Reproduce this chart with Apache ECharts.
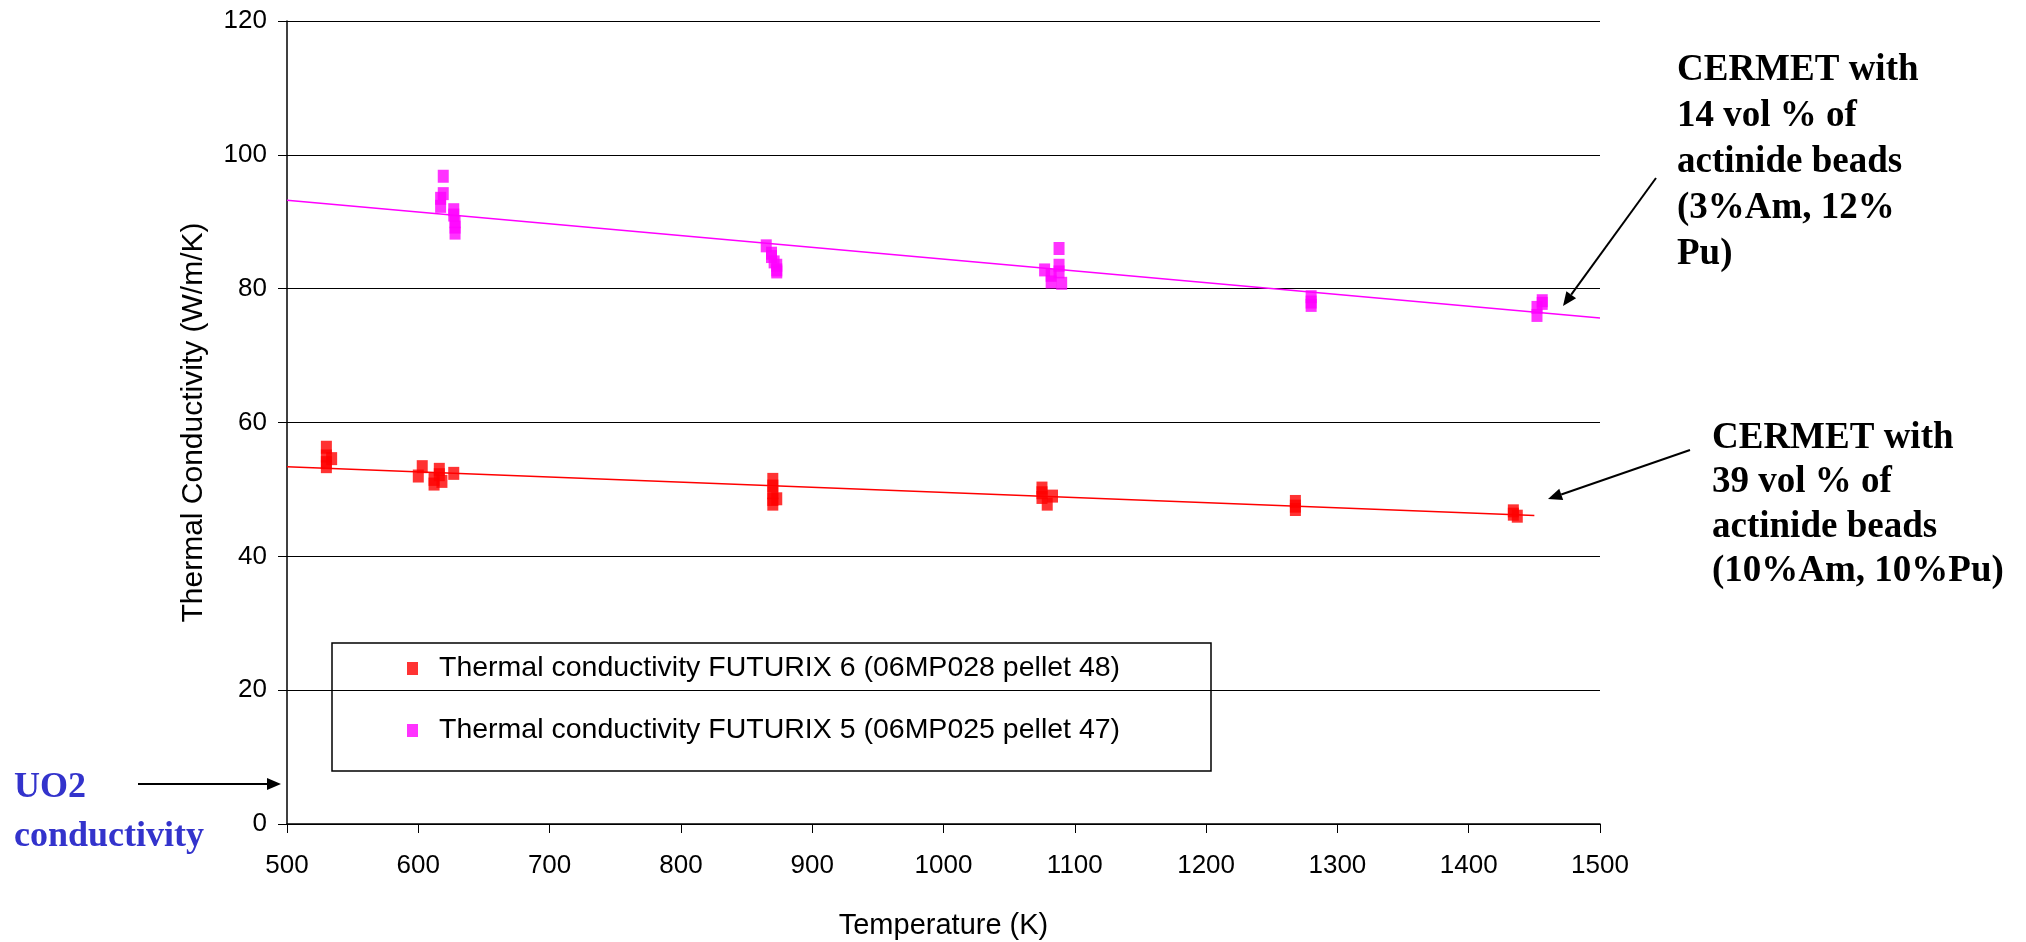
<!DOCTYPE html>
<html>
<head>
<meta charset="utf-8">
<script src="https://cdn.jsdelivr.net/npm/echarts@6/dist/echarts.min.js"></script>
<style>
html,body{margin:0;padding:0;background:#fff;}
#chart{width:2026px;height:942px;}
</style>
</head>
<body>
<div id="chart"></div>
<script>
// ---- data ----
const seriesNames = [
  'Thermal conductivity FUTURIX 6 (06MP028 pellet 48)',
  'Thermal conductivity FUTURIX 5 (06MP025 pellet 47)'
];
const f6Temp = [530,530,530,530,534, 600,603,612,612,616,616,618,627, 870,870,870,870,870,873, 1075,1075,1075,1079,1083, 1268,1268,1268, 1434,1434,1437];
const f6Cond = [56.3,55.0,54.0,53.4,54.6, 52.0,53.4,51.5,50.8,53.0,52.2,51.2,52.4, 51.5,50.5,49.5,48.5,47.8,48.6, 50.2,49.5,48.8,47.8,49.0, 48.2,47.5,47.0, 46.8,46.3,46.0];
const f5Temp = [617,617,619,619,627,627,628,628,628, 865,869,869,871,873,873,873, 1077,1082,1082,1088,1088,1088,1090, 1280,1280,1280, 1452,1452,1456,1456];
const f5Cond = [93.5,92.3,96.8,94.2,91.8,91.0,90.0,89.2,88.3, 86.4,85.3,84.8,84.0,83.5,82.8,82.5, 82.8,82.0,81.0,86.0,83.5,82.5,80.8, 78.8,78.0,77.5, 77.2,76.0,78.2,77.8];
const f6TrendT = [500, 1450];
const f6TrendK = [53.4, 46.1];
const f5TrendT = [500, 1500];
const f5TrendK = [93.2, 75.6];
const xTicks = [500,600,700,800,900,1000,1100,1200,1300,1400,1500];
const yTicks = [0,20,40,60,80,100,120];
const annotation14 = ['CERMET with','14 vol % of','actinide beads','(3%Am, 12%','Pu)'];
const annotation39 = ['CERMET with','39 vol % of','actinide beads','(10%Am, 10%Pu)'];
const uo2Label = ['UO2','conductivity'];

const RED = '#ff0000', MAG = '#ff00ff';
const zip = (a,b) => a.map((v,i)=>[v,b[i]]);

const chart = echarts.init(document.getElementById('chart'));

const serifBold = {fontFamily:'Liberation Serif', fontWeight:'bold', fontSize:37, fill:'#000'};

function arrow(x1,y1,x2,y2,color){
  const ang = Math.atan2(y2-y1,x2-x1), L=14, W=6;
  const bx = x2 - L*Math.cos(ang), by = y2 - L*Math.sin(ang);
  const px = -Math.sin(ang)*W, py = Math.cos(ang)*W;
  return [
    {type:'line', shape:{x1,y1,x2:bx,y2:by}, style:{stroke:color,lineWidth:2}},
    {type:'polygon', shape:{points:[[x2,y2],[bx+px,by+py],[bx-px,by-py]]}, style:{fill:color}}
  ];
}

chart.setOption({
  animation:false,
  backgroundColor:'#fff',
  grid:{left:287, right:426, top:21, bottom:118, containLabel:false, outerBoundsMode:'none'},
  xAxis:{
    type:'value', min:500, max:1500, interval:100,
    name:'Temperature (K)', nameLocation:'middle', nameGap:87,
    nameTextStyle:{fontFamily:'Liberation Sans', fontSize:29, color:'#000'},
    axisLine:{show:true, onZero:false, lineStyle:{color:'#000', width:1.5}},
    axisTick:{show:true, length:9, lineStyle:{color:'#000'}},
    axisLabel:{fontFamily:'Liberation Sans', fontSize:26, color:'#000', margin:29,
      formatter:v=> xTicks.includes(v)? String(v):''},
    splitLine:{show:false}
  },
  yAxis:{
    type:'value', min:0, max:120, interval:20,
    name:'Thermal Conductivity (W/m/K)', nameLocation:'middle', nameGap:78,
    nameTextStyle:{fontFamily:'Liberation Sans', fontSize:30, color:'#000'},
    axisLine:{show:true, lineStyle:{color:'#000', width:1.5}},
    axisTick:{show:true, length:9, inside:false, lineStyle:{color:'#000'}},
    axisLabel:{fontFamily:'Liberation Sans', fontSize:26, color:'#000', margin:20,
      formatter:v=> yTicks.includes(v)? String(v):''},
    splitLine:{show:true, lineStyle:{color:'#000', width:1.2}}
  },
  legend:{
    orient:'vertical', left:402, top:649, itemGap:33,
    itemWidth:11, itemHeight:13,
    textStyle:{fontFamily:'Liberation Sans', fontSize:28.5, color:'#000', padding:[0,0,0,16]},
    data:[{name:seriesNames[0], icon:'rect'},{name:seriesNames[1], icon:'rect'}]
  },
  series:[
    {name:seriesNames[0], type:'scatter', symbol:'rect', symbolSize:[11,13], itemStyle:{color:RED}, data:zip(f6Temp,f6Cond), z:3},
    {name:seriesNames[1], type:'scatter', symbol:'rect', symbolSize:[11,13], itemStyle:{color:MAG}, data:zip(f5Temp,f5Cond), z:3},
    {name:'f6trend', type:'line', data:zip(f6TrendT,f6TrendK), symbol:'none', lineStyle:{color:RED,width:1.5}, z:2, silent:true},
    {name:'f5trend', type:'line', data:zip(f5TrendT,f5TrendK), symbol:'none', lineStyle:{color:MAG,width:1.5}, z:2, silent:true}
  ],
  graphic:[
    {type:'rect', shape:{x:332,y:643,width:879,height:128}, style:{fill:'#fff', stroke:'#000', lineWidth:1.5}, z:-1, zlevel:0},
    {type:'text', left:1677, top:47, style:Object.assign({text:annotation14.join('\n'), lineHeight:46}, serifBold)},
    {type:'text', left:1712, top:416, style:Object.assign({text:annotation39.join('\n'), lineHeight:44.5}, serifBold)},
    {type:'text', left:14, top:763, style:{text:uo2Label.join('\n'), fontFamily:'Liberation Serif', fontWeight:'bold', fontSize:36, fill:'#3333cc', lineHeight:49}},
    ...arrow(1656,178,1563,306,'#000'),
    ...arrow(1690,450,1548,499,'#000'),
    ...arrow(138,784,281,784,'#000')
  ]
});
</script>
</body>
</html>
